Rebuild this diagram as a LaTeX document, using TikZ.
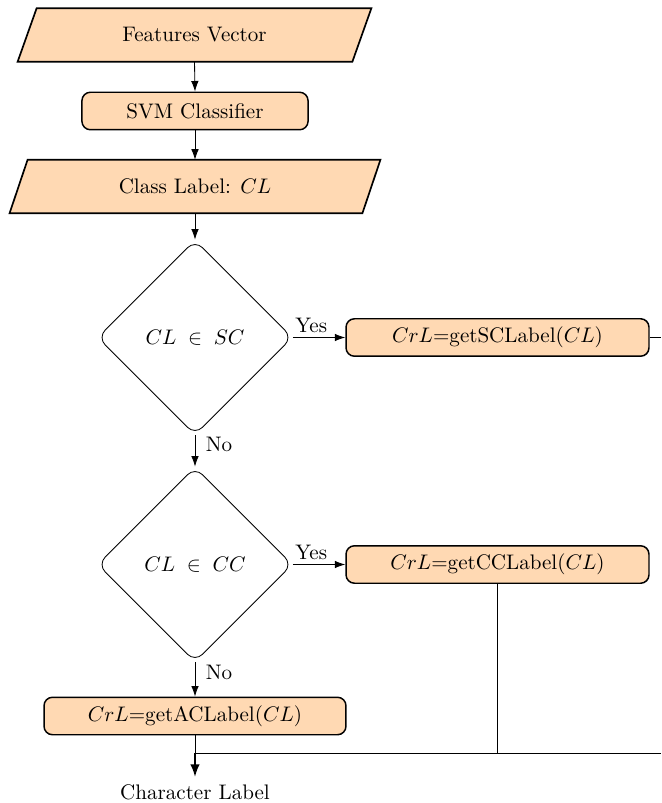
\documentclass[tikz,border=0pt]{standalone}
\usetikzlibrary{shapes.geometric,arrows.meta,calc}
\definecolor{peach}{RGB}{255,217,179}
\begin{document}
\begin{tikzpicture}[x=0.475pt,y=-0.475pt,
  iobox/.style={draw=none,minimum width=#1,minimum height=25pt,inner sep=0pt},
  para/.style={draw=black,fill=peach,line width=0.8pt},
  procbox/.style={draw=black,fill=peach,line width=0.7pt,rounded corners=4pt,minimum height=17.8pt,inner sep=0pt},
  decide/.style={diamond,draw=black,line width=0.4pt,rounded corners=5pt,minimum width=92.6pt,minimum height=92.6pt,inner sep=0pt},
  flow/.style={-{Latex[length=5pt,width=3.6pt]},line width=0.4pt},
  lbl/.style={font=\normalsize,inner sep=2pt},
  nolbl/.style={font=\normalsize,inner sep=2pt,right,pos=0.3,xshift=3pt}]
\useasboundingbox (0,0) rectangle (661,803);
% Features Vector
\node[iobox=158.6pt] (fv) at (194.5,35) {};
\path[para] ($(fv.north west)+(9.5,0)$) -- ($(fv.north east)+(9.5,0)$) -- ($(fv.south east)+(-9.5,0)$) -- ($(fv.south west)+(-9.5,0)$) -- cycle;
\node at (fv) {Features Vector};
% SVM
\node[procbox,minimum width=107.4pt] (svm) at (195,111) {SVM Classifier};
% Class Label
\node[iobox=167.2pt] (cl) at (195,186.5) {};
\path[para] ($(cl.north west)+(9,0)$) -- ($(cl.north east)+(9,0)$) -- ($(cl.south east)+(-9,0)$) -- ($(cl.south west)+(-9,0)$) -- cycle;
\node at (cl) {Class Label: $CL$};
% diamonds
\node[decide] (d1) at (195,337.5) {$CL \;\in\; SC$};
\node[decide] (d2) at (195,564.5) {$CL \;\in\; CC$};
% process boxes
\node[procbox,minimum width=143.9pt] (sc) at (497.5,337.5) {$CrL$=getSCLabel($CL$)};
\node[procbox,minimum width=143.9pt] (cc) at (497.5,564.5) {$CrL$=getCCLabel($CL$)};
\node[procbox,minimum width=143.4pt] (ac) at (195,716) {$CrL$=getACLabel($CL$)};
% output
\node (out) at (195,792) {Character Label};
\coordinate (join) at (195,753);
\coordinate (ccjoin) at (497.5,753);
\coordinate (rightend) at (661,753);
\coordinate (scright) at (661,337.5);
% connectors
\draw[flow] (fv.south) -- (svm.north);
\draw[flow] (svm.south) -- (cl.north);
\draw[flow] (cl.south) -- (d1.north);
\draw[flow] (d1.east) -- node[lbl,above,pos=0.35] {Yes} (sc.west);
\draw[flow] (d1.south) -- node[nolbl] {No} (d2.north);
\draw[flow] (d2.east) -- node[lbl,above,pos=0.35] {Yes} (cc.west);
\draw[flow] (d2.south) -- node[nolbl] {No} (ac.north);
\draw[line width=0.4pt] (sc.east) -- (scright);
\draw[line width=0.4pt] (cc.south) -- (ccjoin);
\draw[line width=0.4pt] (ac.south) -- (join) -- (rightend);
\draw[-{Latex[length=6pt,width=4.5pt]},line width=0.8pt] (join) -- (out.north);
\end{tikzpicture}
\end{document}
